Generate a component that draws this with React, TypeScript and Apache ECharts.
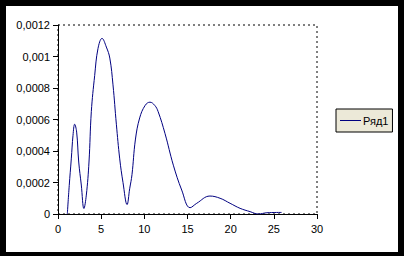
import React, { useEffect, useRef } from "react";
import * as echarts from "echarts";

const xValues = [1.08, 1.3, 1.54, 1.74, 1.93, 2.16, 2.4, 2.7, 3.0, 3.28, 3.59, 3.86, 4.25, 4.63, 5.1, 5.6, 6.0, 6.37, 6.76, 7.15, 7.53, 8.0, 8.3, 8.57, 8.96, 9.46, 10.1, 10.65, 11.2, 11.6, 12.4, 13.36, 14.33, 15.3, 16.07, 17.6, 18.77, 19.93, 21.09, 22.25, 23.2, 24.2, 25.9];
const yValues = [0, 0.00018, 0.00035, 0.0005, 0.00057, 0.00052, 0.00033, 0.000184, 0.000035, 0.00012, 0.00033, 0.00065, 0.00088, 0.00105, 0.001115, 0.00106, 0.00099, 0.00082, 0.00057, 0.00035, 0.0002, 0.00006, 0.00016, 0.00025, 0.00047, 0.00061, 0.00069, 0.00071, 0.00069, 0.00065, 0.00051, 0.00031, 0.000152, 0.00004, 0.000068, 0.000114, 0.0001, 0.000068, 0.000036, 0.000015, 0, 0.000008, 0.00001];
const seriesName = "Ряд1";
const xMin = 0, xMax = 30, xStep = 5;
const yMin = 0, yMax = 0.0012, yStep = 0.0002;

export default function App() {
  const ref = useRef<HTMLDivElement>(null);
  useEffect(() => {
    if (!ref.current) return;
    const chart = echarts.init(ref.current, undefined, { renderer: "svg" });
    const fmt = (v: number) => String(Number(v.toFixed(4))).replace(".", ",");
    chart.setOption({
      animation: false,
      backgroundColor: "#000",
      textStyle: { fontFamily: "Liberation Sans, Arial, sans-serif" },
      graphic: [
        { type: "rect", left: 6, top: 6, shape: { width: 392, height: 246 }, style: { fill: "#fff" }, z: -10 },
      ],
      grid: {
        left: 58, top: 25, right: 87, bottom: 42,
        show: true, borderColor: "#000", borderWidth: 1, borderType: [2, 3], backgroundColor: "transparent",
      },
      xAxis: {
        type: "value", min: xMin, max: xMax, interval: xStep,
        axisLine: { show: true, lineStyle: { color: "#000", width: 1 } },
        axisTick: { show: true, length: 5, lineStyle: { color: "#000" } },
        axisLabel: { color: "#000", fontSize: 11, margin: 9 },
        splitLine: { show: false },
      },
      yAxis: {
        type: "value", min: yMin, max: yMax, interval: yStep,
        axisLine: { show: true, lineStyle: { color: "#000", width: 1 } },
        axisTick: { show: true, length: 5, lineStyle: { color: "#000" } },
        axisLabel: { color: "#000", fontSize: 11, margin: 8, formatter: fmt },
        splitLine: { show: false },
      },
      legend: {
        left: 336, top: 109,
        orient: "vertical",
        backgroundColor: "#ECE9D8",
        borderColor: "#000", borderWidth: 1, borderRadius: 0,
        padding: [6, 4, 6, 4],
        itemWidth: 21, itemHeight: 1, itemGap: 2,
        icon: "rect",
        textStyle: { color: "#000", fontSize: 11, padding: [0, 0, 0, -3] },
        data: [seriesName],
      },
      series: [
        {
          name: seriesName,
          type: "line",
          smooth: 0.4,
          symbol: "none",
          lineStyle: { color: "#000080", width: 1 },
          itemStyle: { color: "#000080" },
          data: xValues.map((x, i) => [x, yValues[i]]),
        },
      ],
    });
    return () => chart.dispose();
  }, []);
  return <div ref={ref} style={{ position: "absolute", left: 0, top: 0, width: 404, height: 256 }} />;
}
